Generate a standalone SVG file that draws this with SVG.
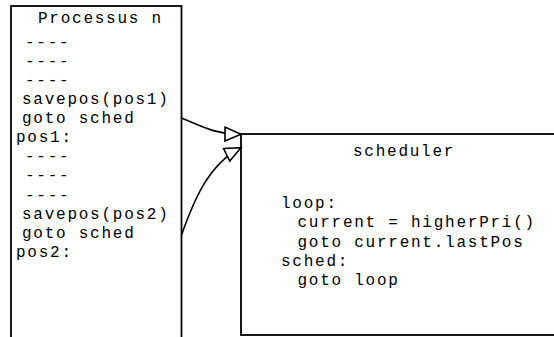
<svg xmlns="http://www.w3.org/2000/svg" width="554" height="337" viewBox="0 0 554 337">
  <style>
    .box { fill: #fff; stroke: #000; stroke-width: 1.8; }
    .code { font-family: "Liberation Mono", "DejaVu Sans Mono", monospace; font-size: 16px; letter-spacing: 1.75px; fill: #000; white-space: pre; }
    .link { fill: none; stroke: #000; stroke-width: 1.6; marker-end: url(#open-arrow); }
  </style>
  <defs>
    <marker id="open-arrow" markerUnits="userSpaceOnUse" markerWidth="20" markerHeight="18" refX="17" refY="8" orient="auto" viewBox="0 0 20 18">
      <path d="M1,1 L17,8 L1,15 Z" fill="#fff" stroke="#000" stroke-width="1.6"/>
    </marker>
  </defs>

  <!-- process column -->
  <g id="processus">
    <rect class="box" x="11" y="6" width="170.5" height="340"/>
    <text class="code" x="38" y="23">Processus n</text>
    <text class="code" x="25" y="46.7">----</text>
    <text class="code" x="25" y="65.8">----</text>
    <text class="code" x="25" y="84.9">----</text>
    <text class="code" x="22" y="104">savepos(pos1)</text>
    <text class="code" x="22" y="123.1">goto sched</text>
    <text class="code" x="16" y="142.2">pos1:</text>
    <text class="code" x="25" y="161.3">----</text>
    <text class="code" x="25" y="180.4">----</text>
    <text class="code" x="25" y="199.5">----</text>
    <text class="code" x="22" y="218.6">savepos(pos2)</text>
    <text class="code" x="22" y="237.7">goto sched</text>
    <text class="code" x="16" y="256.8">pos2:</text>
  </g>

  <!-- scheduler block -->
  <g id="scheduler">
    <rect class="box" x="241" y="134" width="330" height="201"/>
    <text class="code" x="353" y="155.5">scheduler</text>
    <text class="code" x="281" y="208">loop:</text>
    <text class="code" x="297.5" y="227.3">current = higherPri()</text>
    <text class="code" x="297.5" y="246.6">goto current.lastPos</text>
    <text class="code" x="281" y="265.9">sched:</text>
    <text class="code" x="297.5" y="285.2">goto loop</text>
  </g>

  <!-- jumps into the scheduler -->
  <g id="connectors">
    <path class="link" d="M181.5,118 C205,128 216,134 241,134.3"/>
    <path class="link" d="M181.5,235 C193,203 208,164 241,147.7"/>
  </g>
</svg>
